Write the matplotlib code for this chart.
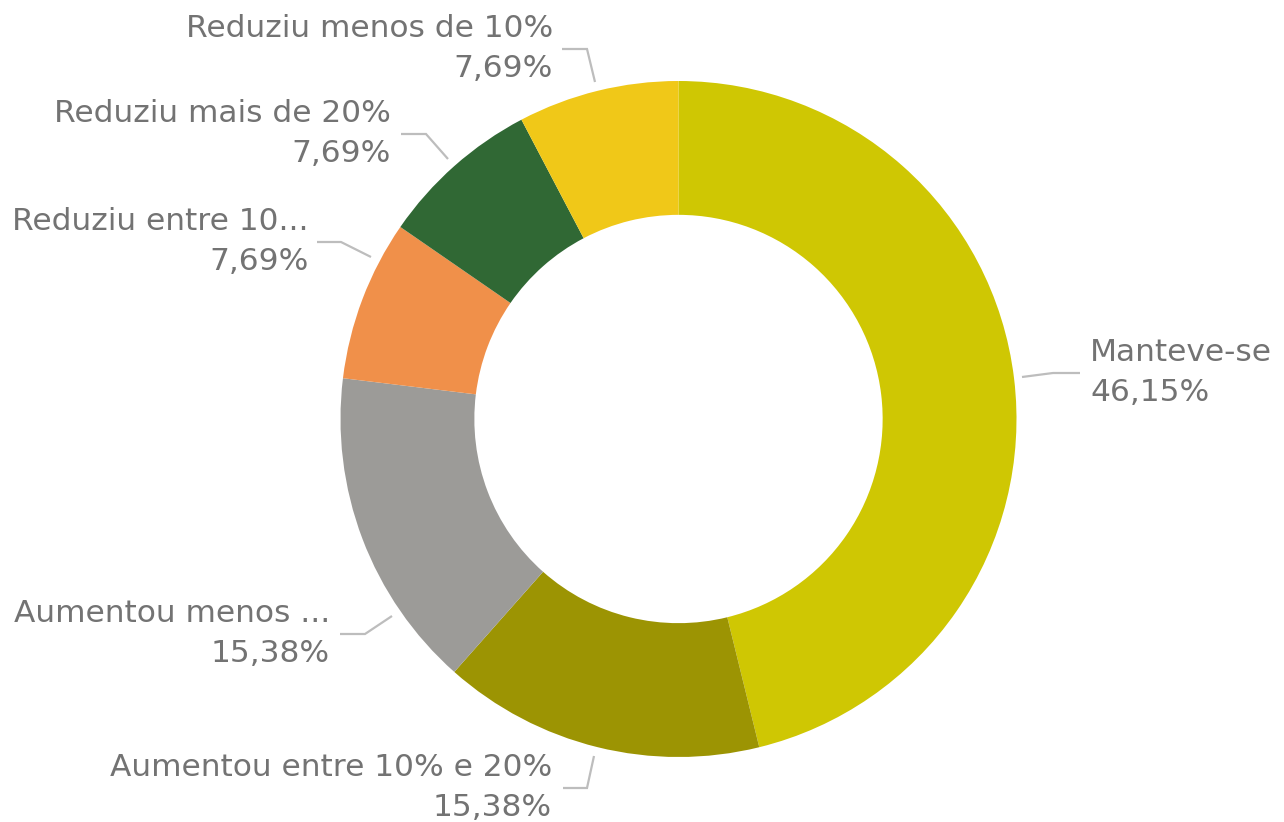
import matplotlib
matplotlib.use("Agg")
import matplotlib.pyplot as plt
import numpy as np

categories = ["Manteve-se", "Aumentou entre 10% e 20%", "Aumentou menos ...",
              "Reduziu entre 10...", "Reduziu mais de 20%", "Reduziu menos de 10%"]
values = [46.15, 15.38, 15.38, 7.69, 7.69, 7.69]
value_labels = ["46,15%", "15,38%", "15,38%", "7,69%", "7,69%", "7,69%"]
colors = ["#CFC703", "#9C9403", "#9C9B98", "#F0904A", "#306834", "#F0C818"]

plt.rcParams['font.family'] = ['DejaVu Sans']

W, H = 1284, 822
fig = plt.figure(figsize=(W / 100, H / 100), dpi=100)
ax = fig.add_axes([0, 0, 1, 1])

cx, cy, R = 678.5, H - 419, 338
wedges, _ = ax.pie(values, colors=colors, startangle=90, counterclock=False,
                   center=(cx, cy), radius=R, frame=True,
                   wedgeprops=dict(width=R * 0.396, linewidth=0))
ax.set_xlim(0, W)
ax.set_ylim(0, H)
ax.set_aspect('equal')
ax.axis('off')

# label layout in pixels from top-left: text anchor (x, y of first line), ha,
# leader line points: start (at ring), elbow, end
layout = [
    ((1090, 352), 'left',  (1022, 377), (1053, 373), (1080, 373)),
    ((552, 768),  'right', (594, 756),  (587, 788),  (563, 788)),
    ((330, 613),  'right', (392, 616),  (365, 634),  (340, 634)),
    ((309, 221),  'right', (371, 257),  (341, 242),  (317, 242)),
    ((391, 113),  'right', (448, 159),  (426, 134),  (401, 134)),
    ((553, 28),   'right', (595, 82),   (587, 49),   (562, 49)),
]

tcol = "#737373"
lcol = "#BDBDBD"
for (cat, vl, lay) in zip(categories, value_labels, layout):
    (tx, ty), ha, p0, p1, p2 = lay
    ax.plot([p0[0], p1[0], p2[0]], [H - p0[1], H - p1[1], H - p2[1]],
            color=lcol, lw=1.6, solid_capstyle='butt', solid_joinstyle='miter')
    ax.text(tx, H - ty, cat, ha=ha, va='center', fontsize=22.5, color=tcol)
    ax.text(tx, H - ty - 40, vl, ha=ha, va='center', fontsize=22.5, color=tcol)

fig.savefig("out.png", dpi=100, facecolor="white")
